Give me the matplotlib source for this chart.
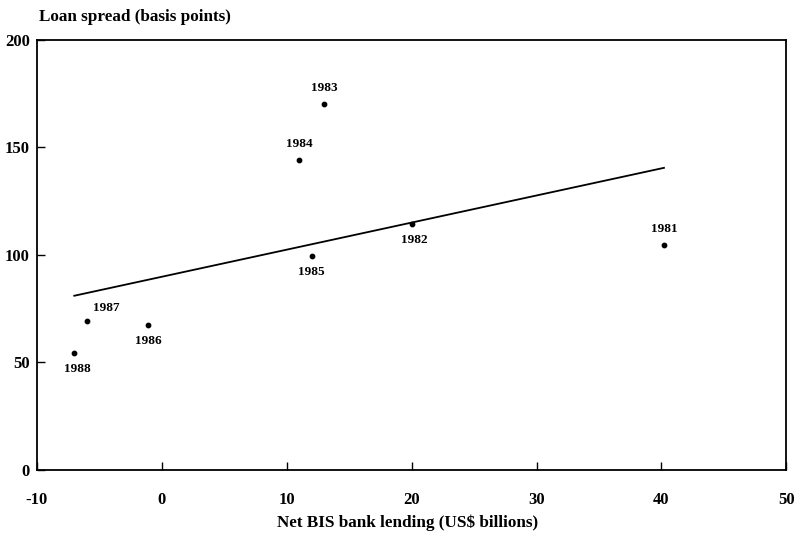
import matplotlib
matplotlib.use("Agg")
import matplotlib.pyplot as plt

# Data
years = ['1981', '1982', '1983', '1984', '1985', '1986', '1987', '1988']
lending = [40.2, 20.0, 13.0, 11.0, 12.0, -1.1, -6.0, -7.0]
spread = [104.7, 114.4, 170.2, 144.2, 99.5, 67.4, 69.3, 54.4]
# Regression line end points
fit_x = [-7.0, 40.2]
fit_y = [81.0, 140.5]

# Label offsets (points): above or below the marker
offsets = {'1981': (0, 7), '1982': (2, -7), '1983': (0, 7), '1984': (0, 7),
           '1985': (0, -7), '1986': (0, -7), '1987': (14, 5), '1988': (2, -7)}

plt.rcParams['font.family'] = ['Liberation Serif', 'DejaVu Serif']
plt.rcParams['font.weight'] = 'bold'
plt.rcParams['axes.unicode_minus'] = False

fig = plt.figure(figsize=(8, 5.47), dpi=100)
ax = fig.add_axes([0.046, 0.141, 0.937, 0.786])

ax.plot(fit_x, fit_y, color='black', lw=1.3)
ax.scatter(lending, spread, s=10, color='black', zorder=3)
for yr, x, y in zip(years, lending, spread):
    dx, dy = offsets[yr]
    ax.annotate(yr, (x, y), xytext=(dx, dy), textcoords='offset points',
                ha='center', va='bottom' if dy > 0 else 'top', fontsize=9.5)

ax.set_xlim(-10, 50)
ax.set_ylim(0, 200)
ax.set_xticks([-10, 0, 10, 20, 30, 40, 50])
ax.set_yticks([0, 50, 100, 150, 200])
ax.tick_params(direction='in', length=6, width=1, labelsize=12, pad=16)
ax.tick_params(axis='y', pad=5)
for sp in ax.spines.values():
    sp.set_linewidth(1.3)

fig.text(0.049, 0.969, 'Loan spread (basis points)', fontsize=12.3, ha='left', va='center')
fig.text(0.509, 0.044, 'Net BIS bank lending (US$ billions)', fontsize=12.3, ha='center', va='center')

fig.savefig('out.png', dpi=100)
